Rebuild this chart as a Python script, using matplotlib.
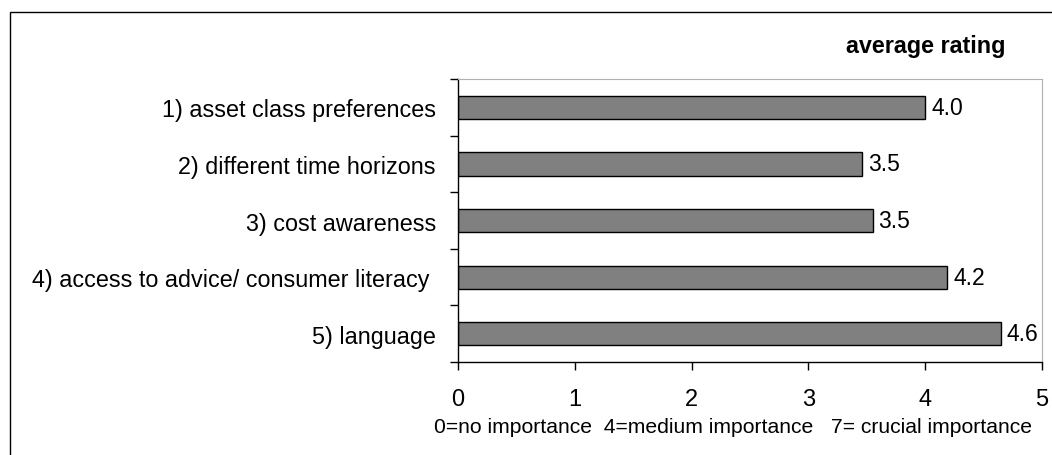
import matplotlib.pyplot as plt
from matplotlib.patches import Rectangle

plt.rcParams["font.family"] = ["Liberation Sans", "DejaVu Sans"]

categories = [
    "1) asset class preferences",
    "2) different time horizons",
    "3) cost awareness",
    "4) access to advice/ consumer literacy ",
    "5) language",
]
ratings = [4.00, 3.46, 3.55, 4.19, 4.65]
rating_labels = ["4.0", "3.5", "3.5", "4.2", "4.6"]
xticks = [0, 1, 2, 3, 4, 5]

fig = plt.figure(figsize=(10.52, 4.56), dpi=100)
ax = fig.add_axes([0.4354, 0.2039, 0.5551, 0.6206])

pos = list(range(len(categories)))
ax.barh(pos, ratings, height=0.41, color="#808080", edgecolor="black", linewidth=1)
for p, v, lab in zip(pos, ratings, rating_labels):
    ax.text(v + 0.05, p, lab, va="center", ha="left", fontsize=16.5)

ax.set_xlim(0, 5)
ax.set_ylim(4.5, -0.5)
ax.set_xticks(xticks)
ax.set_xticklabels([str(t) for t in xticks], fontsize=17)
ax.set_yticks(pos)
ax.set_yticklabels(categories, fontsize=16.8)
ax.set_yticks([p - 0.5 for p in pos] + [4.5], minor=True)
ax.tick_params(axis="y", which="major", length=0, pad=16)
ax.tick_params(axis="y", which="minor", length=6, direction="out", width=1)
ax.tick_params(axis="x", length=6, direction="out", width=1, pad=13)

for s in ["top", "right"]:
    ax.spines[s].set_color("#b0b0b0")
    ax.spines[s].set_linewidth(0.8)
for s in ["left", "bottom"]:
    ax.spines[s].set_color("black")
    ax.spines[s].set_linewidth(1)

fig.text(733 / 1052, 1 - 428 / 456, "0=no importance  4=medium importance   7= crucial importance",
         ha="center", va="center", fontsize=15.2)
fig.text(1005 / 1052, 1 - 53 / 456, "average rating", ha="right", va="baseline",
         fontsize=16.8, fontweight="bold")

# outer frame
fig.patches.append(Rectangle((10 / 1052, -0.1), 1.2, 1 - 13 / 456 + 0.1,
                             transform=fig.transFigure, fill=False,
                             edgecolor="black", linewidth=1, clip_on=False))

fig.savefig("out.png", dpi=100)
